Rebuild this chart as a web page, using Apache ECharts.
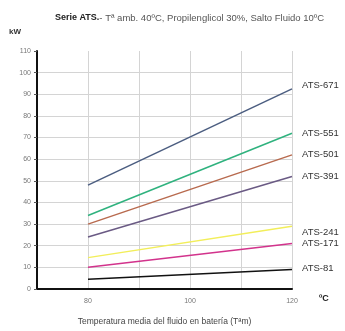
<!DOCTYPE html>
<html><head><meta charset="utf-8">
<script src="https://cdn.jsdelivr.net/npm/echarts@6/dist/echarts.min.js"></script>
<style>html,body{margin:0;padding:0;background:#fff}#c{width:345px;height:331px}</style>
</head><body><div id="c"></div>
<script>
const temps = [80, 120];
const seriesNames = ['ATS-671','ATS-551','ATS-501','ATS-391','ATS-241','ATS-171','ATS-81'];
const ats671 = [48, 92.5];
const ats551 = [34, 72];
const ats501 = [30, 62];
const ats391 = [24, 52];
const ats241 = [14.5, 29];
const ats171 = [10, 21];
const ats81 = [4.5, 9];
const yTicks = [0,10,20,30,40,50,60,70,80,90,100,110];
const xTickLabels = {80:'80',100:'100',120:'120'};

const values = [ats671, ats551, ats501, ats391, ats241, ats171, ats81];
const colors = ['#4b5d80','#2fb27e','#b86a4e','#6a5a84','#f2ee5a','#d2338c','#111111'];
const labelOffsets = [[2,-3],[2,0],[2,0],[2,0],[2,6],[2,0],[2,-1]];

const chart = echarts.init(document.getElementById('c'));
const gridColors = yTicks.map((v,i)=> i===yTicks.length-1 ? 'rgba(0,0,0,0)' : '#d4d4d4');
chart.setOption({
  animation:false,
  backgroundColor:'#fff',
  title:{
    left:50, top:8,
    text:'{b|Serie ATS.}{n|- Tª amb. 40ºC, Propilenglicol 30%, Salto Fluido 10ºC}',
    textStyle:{fontWeight:'normal',rich:{
      b:{fontFamily:'Liberation Sans, Arial',fontSize:9,fontWeight:'bold',color:'#222'},
      n:{fontFamily:'Liberation Sans, Arial',fontSize:9.5,fontWeight:'normal',color:'#555'}
    }}
  },
  graphic:[
    {type:'text',left:9,top:28,style:{text:'kW',fontFamily:'Liberation Sans, Arial',fontSize:8,fontWeight:'bold',fill:'#333'}},
    {type:'text',left:319,top:294,style:{text:'ºC',fontFamily:'Liberation Sans, Arial',fontSize:9,fontWeight:'bold',fill:'#222'}}
  ],
  grid:{left:37,right:53,top:51,bottom:42},
  xAxis:{
    type:'value',min:70,max:120,interval:10,
    name:'Temperatura media del fluido en batería (Tªm)',
    nameLocation:'middle',nameGap:28,
    nameTextStyle:{fontFamily:'Liberation Sans, Arial',fontSize:8.5,color:'#444'},
    axisLine:{lineStyle:{color:'#111',width:2}},
    axisTick:{show:false},
    axisLabel:{formatter:v=>xTickLabels[v]||'',fontFamily:'Liberation Sans, Arial',fontSize:7,color:'#777',margin:9},
    splitLine:{show:true,lineStyle:{color:'#d4d4d4',width:1}}
  },
  yAxis:{
    type:'value',min:0,max:110,interval:10,
    axisLine:{show:true,lineStyle:{color:'#111',width:2}},
    axisTick:{show:true,length:3,lineStyle:{color:'#555'}},
    axisLabel:{fontFamily:'Liberation Sans, Arial',fontSize:7,color:'#777',margin:6},
    splitLine:{show:true,lineStyle:{color:gridColors,width:1}}
  },
  series: seriesNames.map((n,i)=>({
    name:n,type:'line',symbol:'none',
    data: temps.map((t,j)=>[t, values[i][j]]),
    lineStyle:{color:colors[i],width:1.5},
    endLabel:{show:true,formatter:'{a}',offset:labelOffsets[i],
      fontFamily:'Liberation Sans, Arial',fontSize:9.5,color:'#333'}
  }))
});
</script></body></html>
